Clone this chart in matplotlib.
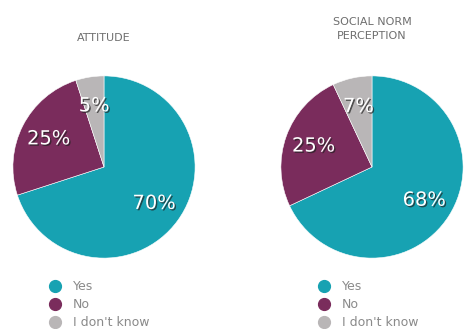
import matplotlib
matplotlib.use("Agg")
import matplotlib.pyplot as plt
import matplotlib.patheffects as pe
from matplotlib.lines import Line2D

plt.rcParams['font.family'] = ['DejaVu Sans']

answers = ['Yes', 'No', "I don't know"]
attitude = [70, 25, 5]
social_norm = [68, 25, 7]
titles = ['ATTITUDE', 'SOCIAL NORM\nPERCEPTION']
colors = ['#17a2b2', '#7a2c5c', '#b9b6b7']

W, H = 465, 329
fig = plt.figure(figsize=(W / 100, H / 100), dpi=100)

def px_axes(cx, cy, r):
    return fig.add_axes([(cx - r) / W, 1 - (cy + r) / H, 2 * r / W, 2 * r / H])

shadow = [pe.withSimplePatchShadow(offset=(1, -1), shadow_rgbFace='#222222', alpha=0.7)]

panels = [
    (attitude, titles[0], 104, 38, 59),
    (social_norm, titles[1], 372, 29, 328),
]

for values, title, cx, ty, lx in panels:
    ax = px_axes(cx, 167, 92)
    wedges, texts, autotexts = ax.pie(
        values, colors=colors, startangle=90, counterclock=False,
        autopct='%d%%', pctdistance=0.68,
        wedgeprops=dict(edgecolor='white', linewidth=0.4),
        textprops=dict(color='white', fontsize=14),
    )
    for t in autotexts:
        t.set_path_effects(shadow)
    ax.set_xlim(-1.01, 1.01)
    ax.set_ylim(-1.01, 1.01)
    ax.set_aspect('equal')
    ax.axis('off')

    fig.text(cx / W, 1 - ty / H, title, ha='center', va='center',
             fontsize=8, color='#6e6e6e', linespacing=1.5)

    handles = [Line2D([], [], marker='o', linestyle='', markersize=8.5,
                      markerfacecolor=c, markeredgecolor=c) for c in colors]
    fig.legend(handles, answers, loc='upper left',
               bbox_to_anchor=((lx - 10) / W, 1 - 280 / H),
               frameon=False, fontsize=9, labelcolor='#8a8a8a',
               handlelength=1.0, handletextpad=0.9, labelspacing=0.4,
               borderpad=0, borderaxespad=0)

fig.savefig('out.png', dpi=100, facecolor='white')
